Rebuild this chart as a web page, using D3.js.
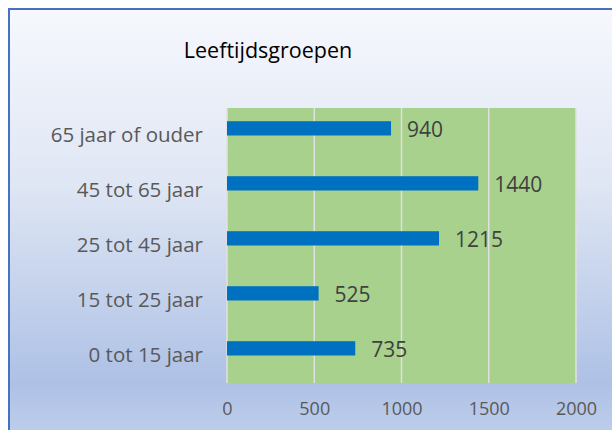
<!DOCTYPE html>
<html><head><meta charset="utf-8">
<script src="https://cdn.jsdelivr.net/npm/d3@7"></script>
<style>html,body{margin:0;padding:0;background:#fff;}svg{display:block;}</style>
</head><body>
<svg id="c" width="612" height="430"></svg>
<script>
const categories = ["65 jaar of ouder","45 tot 65 jaar","25 tot 45 jaar","15 tot 25 jaar","0 tot 15 jaar"];
const values = [940, 1440, 1215, 525, 735];
const xTicks = [0, 500, 1000, 1500, 2000];
const title = "Leeftijdsgroepen";

const svg = d3.select("#c");
const font = "'Open Sans', sans-serif";

const defs = svg.append("defs");
const grad = defs.append("linearGradient").attr("id","bg").attr("x1",0).attr("y1",0).attr("x2",0).attr("y2",1);
[[0,"#f6f8fd"],[0.4,"#dfe6f4"],[0.85,"#aec1e5"],[1,"#c3d1ee"]].forEach(s=>grad.append("stop").attr("offset",s[0]).attr("stop-color",s[1]));

svg.append("rect").attr("x",9).attr("y",9).attr("width",620).attr("height",440)
  .attr("fill","url(#bg)").attr("stroke","#4472c4").attr("stroke-width",2);

const m = {left:227, right:576, top:108, bottom:383};
const x = d3.scaleLinear().domain([0,2000]).range([m.left, m.right]);
const y = d3.scaleBand().domain(categories).range([m.top, m.bottom]).padding(0);

svg.append("rect").attr("x",m.left).attr("y",m.top).attr("width",m.right-m.left).attr("height",m.bottom-m.top).attr("fill","#a9d18e");

svg.append("g").selectAll("line").data(xTicks).join("line")
  .attr("x1",d=>x(d)).attr("x2",d=>x(d)).attr("y1",m.top).attr("y2",m.bottom)
  .attr("stroke","#e0e0e0").attr("stroke-width",1.5);

const barH = y.bandwidth()*0.26;
svg.append("g").selectAll("rect").data(values).join("rect")
  .attr("x",x(0)).attr("y",(d,i)=>y(categories[i])+y.bandwidth()/2-barH)
  .attr("width",d=>x(d)-x(0)).attr("height",barH).attr("fill","#0070c0");

svg.append("g").selectAll("text").data(values).join("text")
  .attr("x",d=>x(d)+16).attr("y",(d,i)=>y(categories[i])+y.bandwidth()/2-barH/2+1)
  .attr("dy","0.35em").attr("fill","#404040").style("font-family",font).style("font-size","21px")
  .text(d=>d);

const xAxis = svg.append("g").attr("transform",`translate(0,${m.bottom})`)
  .call(d3.axisBottom(x).tickValues(xTicks).tickFormat(d3.format("d")).tickSize(0).tickPadding(19));
xAxis.select(".domain").remove();
xAxis.selectAll("text").attr("fill","#595959").style("font-family",font).style("font-size","18px");

const yAxis = svg.append("g").attr("transform",`translate(${m.left},0)`)
  .call(d3.axisLeft(y).tickSize(0).tickPadding(24));
yAxis.select(".domain").remove();
yAxis.selectAll("text").attr("fill","#595959").style("font-family",font).style("font-size","20.5px");

svg.append("text").attr("x",268).attr("y",58).attr("text-anchor","middle")
  .attr("fill","#000").style("font-family",font).style("font-size","21.5px").text(title);
</script>
</body></html>
